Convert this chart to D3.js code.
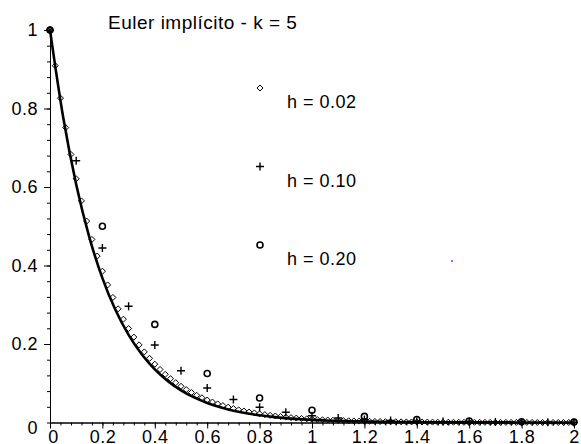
<!DOCTYPE html>
<html>
<head>
<meta charset="utf-8">
<script src="https://cdn.jsdelivr.net/npm/d3@7"></script>
<style>
  body { margin: 0; background: #fff; }
  svg { display: block; }
  text { font-family: "Liberation Sans", Arial, sans-serif; fill: #000; letter-spacing: 0.5px; }
</style>
</head>
<body>
<div class="chart"></div>
<script>
const w = 581;
const h = 444;

// exact solution e^(-5t), sampled every 0.05
const exactStep = 0.05;
const exactY = [1, 0.7788, 0.6065, 0.4724, 0.3679, 0.2865, 0.2231, 0.1738, 0.1353, 0.1054,
    0.0821, 0.0639, 0.0498, 0.0388, 0.0302, 0.0235, 0.0183, 0.0143, 0.0111, 0.0087,
    0.0067, 0.0052, 0.0041, 0.0032, 0.0025, 0.0019, 0.0015, 0.0012, 0.0009, 0.0007,
    0.0006, 0.0004, 0.0003, 0.0003, 0.0002, 0.0002, 0.0001, 0.0001, 0.0001, 0.0001, 0];

// implicit Euler, h = 0.02
const step02 = 0.02;
const euler02 = [1, 0.9091, 0.8264, 0.7513, 0.6830, 0.6209, 0.5645, 0.5132, 0.4665, 0.4241,
    0.3855, 0.3505, 0.3186, 0.2897, 0.2633, 0.2394, 0.2176, 0.1978, 0.1799, 0.1635,
    0.1486, 0.1351, 0.1228, 0.1117, 0.1015, 0.0923, 0.0839, 0.0763, 0.0693, 0.0630,
    0.0573, 0.0521, 0.0474, 0.0431, 0.0391, 0.0356, 0.0323, 0.0294, 0.0267, 0.0243,
    0.0221, 0.0201, 0.0183, 0.0166, 0.0151, 0.0137, 0.0125, 0.0113, 0.0103, 0.0094,
    0.0085, 0.0077, 0.0070, 0.0064, 0.0058, 0.0053, 0.0048, 0.0044, 0.0040, 0.0036,
    0.0033, 0.0030, 0.0027, 0.0025, 0.0022, 0.0020, 0.0019, 0.0017, 0.0015, 0.0014,
    0.0013, 0.0012, 0.0011, 0.0010, 0.0009, 0.0008, 0.0007, 0.0007, 0.0006, 0.0005,
    0.0005, 0.0004, 0.0004, 0.0004, 0.0003, 0.0003, 0.0003, 0.0003, 0.0002, 0.0002,
    0.0002, 0.0002, 0.0002, 0.0001, 0.0001, 0.0001, 0.0001, 0.0001, 0.0001, 0.0001, 0.0001];

// implicit Euler, h = 0.10
const step10 = 0.1;
const euler10 = [1, 0.6667, 0.4444, 0.2963, 0.1975, 0.1317, 0.0878, 0.0585, 0.0390, 0.0260,
    0.0173, 0.0116, 0.0077, 0.0051, 0.0034, 0.0023, 0.0015, 0.0010, 0.0007, 0.0004, 0.0003];

// implicit Euler, h = 0.20
const step20 = 0.2;
const euler20 = [1, 0.5, 0.25, 0.125, 0.0625, 0.0313, 0.0156, 0.0078, 0.0039, 0.0020, 0.0010];

const xTicks = [0, 0.2, 0.4, 0.6, 0.8, 1, 1.2, 1.4, 1.6, 1.8, 2];
const xTickLabels = ["0", "0.2", "0.4", "0.6", "0.8", "1", "1.2", "1.4", "1.6", "1.8", "2"];
const yTicks = [0.2, 0.4, 0.6, 0.8, 1];
const yTickLabels = ["0.2", "0.4", "0.6", "0.8", "1"];
const legendLabels = ["h = 0.02", "h = 0.10", "h = 0.20"];
const title = "Euler implícito - k = 5";

const svg = d3.select(".chart")
    .append("svg")
    .attr("width", w)
    .attr("height", h);

const x = d3.scaleLinear().domain([0, 2]).range([50, 574]);
const y = d3.scaleLinear().domain([0, 1]).range([422.5, 30]);

const fontSize = 18;

// minor ticks
const xMinor = d3.range(0, 2.0001, 0.04);
const yMinor = d3.range(0, 1.0001, 0.04);

svg.append("g")
    .attr("transform", `translate(0,${y(0)})`)
    .call(d3.axisBottom(x).tickValues(xMinor).tickSize(3).tickFormat("").tickSizeOuter(0));

svg.append("g")
    .attr("transform", `translate(${x(0)},0)`)
    .call(d3.axisLeft(y).tickValues(yMinor).tickSize(3).tickFormat("").tickSizeOuter(0));

svg.append("g")
    .attr("transform", `translate(0,${y(0)})`)
    .call(d3.axisBottom(x).tickValues(xTicks).tickSize(6).tickPadding(1.5)
        .tickFormat((d, i) => xTickLabels[i]).tickSizeOuter(0))
    .selectAll(".tick text")
    .attr("dx", (d) => d === 0 ? 3 : 0);

svg.append("g")
    .attr("transform", `translate(${x(0)},0)`)
    .call(d3.axisLeft(y).tickValues(yTicks).tickSize(6).tickPadding(6)
        .tickFormat((d, i) => yTickLabels[i]).tickSizeOuter(0));

svg.selectAll(".domain").attr("stroke", "#000").attr("stroke-width", 1);
svg.selectAll(".tick line").attr("stroke", "#000");
svg.selectAll(".tick text")
    .style("font-family", "'Liberation Sans', Arial, sans-serif")
    .style("font-size", fontSize + "px")
    .attr("fill", "#000");

// y-axis zero label sits a bit lower, left of the axis
svg.append("text")
    .attr("x", x(0) - 12)
    .attr("y", y(0) + 6)
    .attr("dy", "0.32em")
    .attr("text-anchor", "end")
    .style("font-size", fontSize + "px")
    .text("0");

// exact solution
const line = d3.line()
    .x((d, i) => x(i * exactStep))
    .y((d) => y(d))
    .curve(d3.curveMonotoneX);

svg.append("path")
    .datum(exactY)
    .attr("d", line)
    .attr("fill", "none")
    .attr("stroke", "#000")
    .attr("stroke-width", 2.6);

// markers
function diamond(g) {
    g.append("path")
        .attr("d", "M0,-3L3,0L0,3L-3,0Z")
        .attr("fill", "none")
        .attr("stroke", "#000")
        .attr("stroke-width", 1);
}
function plus(g) {
    g.append("path")
        .attr("d", "M-4,0H4M0,-4V4")
        .attr("fill", "none")
        .attr("stroke", "#000")
        .attr("stroke-width", 1.4);
}
function circle(g) {
    g.append("circle")
        .attr("r", 3)
        .attr("fill", "none")
        .attr("stroke", "#000")
        .attr("stroke-width", 1.6);
}

const series = [
    { values: euler02, step: step02, mark: diamond },
    { values: euler10, step: step10, mark: plus },
    { values: euler20, step: step20, mark: circle }
];

series.forEach(function (s) {
    svg.append("g")
        .selectAll("g")
        .data(s.values)
        .enter()
        .append("g")
        .attr("transform", (d, i) => `translate(${x(i * s.step)},${y(d)})`)
        .each(function () { s.mark(d3.select(this)); });
});

// title
svg.append("text")
    .attr("x", 108)
    .attr("y", 29)
    .style("font-size", "19px")
    .text(title);

// legend
const legend = svg.append("g")
    .selectAll("g")
    .data(series)
    .enter()
    .append("g")
    .attr("transform", (d, i) => `translate(260,${88 + i * 78.5})`);

legend.each(function (d) { d.mark(d3.select(this)); });

legend.append("text")
    .attr("x", 27)
    .attr("y", 20)
    .style("font-size", fontSize + "px")
    .text((d, i) => legendLabels[i]);

// stray pixel from the original plot
svg.append("rect")
    .attr("x", 451)
    .attr("y", 260)
    .attr("width", 2)
    .attr("height", 2)
    .attr("fill", "#ff33ff");
</script>
</body>
</html>
